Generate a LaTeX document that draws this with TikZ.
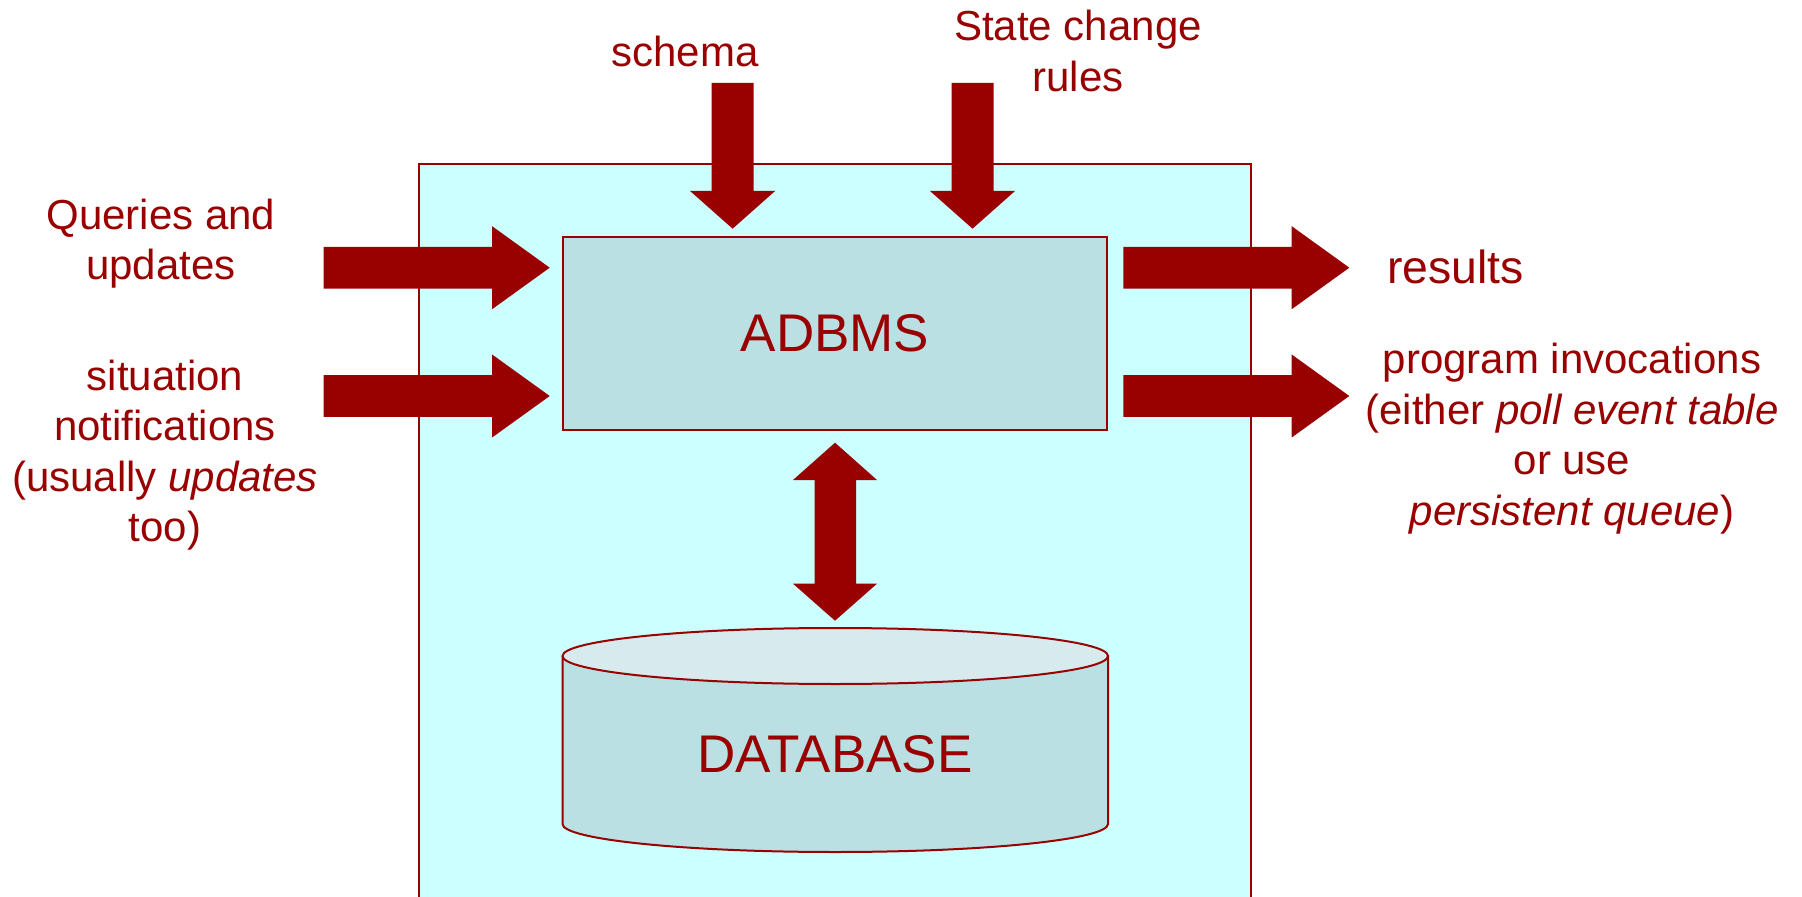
\documentclass[tikz,border=0pt]{standalone}
\usepackage{fontspec}
\setmainfont{Liberation Sans}
\definecolor{arrowred}{HTML}{990000}
\definecolor{framefill}{HTML}{CCFFFF}
\definecolor{boxfill}{HTML}{BAE0E3}
\definecolor{lidfill}{HTML}{D7EBEE}

% block arrow pointing right: from x=#1 to tip x=#2, centred on y=#3
\newcommand\BlockArrowRight[3]{%
  \fill[arrowred] ({#1},{#3-20.9}) -- ({#2-57.6},{#3-20.9}) -- ({#2-57.6},{#3-41.5})
    -- ({#2},{#3}) -- ({#2-57.6},{#3+41.5}) -- ({#2-57.6},{#3+20.9})
    -- ({#1},{#3+20.9}) -- cycle;}
% block arrow pointing down: centred on x=#1, from y=#2 to tip y=#3
\newcommand\BlockArrowDown[3]{%
  \fill[arrowred] ({#1-21},{#2}) -- ({#1+21},{#2}) -- ({#1+21},{#3-37.7})
    -- ({#1+42.5},{#3-37.7}) -- ({#1},{#3}) -- ({#1-42.5},{#3-37.7})
    -- ({#1-21},{#3-37.7}) -- cycle;}

\begin{document}
\begin{tikzpicture}[x=0.5pt,y=-0.5pt,
  label text/.style={text=arrowred,inner sep=0pt,font=\fontsize{21}{25.25}\selectfont},
  big text/.style={text=arrowred,font=\fontsize{26.5}{30}\selectfont}]
\useasboundingbox (0,0) rectangle (1802,897);
\clip (0,0) rectangle (1802,897);

% surrounding system frame (runs off the bottom edge)
\draw[arrowred,line width=1pt,fill=framefill] (419,164) rectangle (1251,920);

% ADBMS engine
\node[draw=arrowred,line width=1pt,fill=boxfill,big text,
      minimum width=272pt,minimum height=96.25pt] (adbms) at (835,333.75) {ADBMS};

% database cylinder
\fill[boxfill] (562.5,656) -- (562.5,824)
  arc[start angle=180,end angle=0,x radius=272.75,y radius=28] -- (1108,656) -- cycle;
\draw[arrowred,line width=1pt] (562.5,656) -- (562.5,824)
  arc[start angle=180,end angle=0,x radius=272.75,y radius=28] -- (1108,656);
\draw[arrowred,line width=1pt,fill=lidfill] (835.25,656) ellipse[x radius=272.75,y radius=28];
\node[big text] (db) at (835,754) {DATABASE};

% inputs from above (multi-line labels are placed by their last baseline)
\BlockArrowDown{732.6}{83}{228.7}
\BlockArrowDown{972.5}{83}{228.7}
\node[label text,anchor=base] (schema) at (685,66.7) {schema};
\node[label text,anchor=base,align=center] (rules) at (1078,91.5) {State change\\rules};

% inputs from the left
\BlockArrowRight{323.5}{549.7}{267.7}
\BlockArrowRight{323.5}{549.7}{396}
\node[label text,anchor=base,align=center] (queries) at (161,280) {Queries and\\updates};
\node[label text,anchor=base,align=center] (situations) at (165,541.7)
  {situation\\notifications\\(usually \textit{updates}\\too)};

% outputs to the right
\BlockArrowRight{1123.3}{1349.3}{267.7}
\BlockArrowRight{1123.3}{1349.3}{396}
\node[text=arrowred,inner sep=0pt,font=\fontsize{23.2}{28}\selectfont,anchor=base west]
  (results) at (1386.7,284) {results};
\node[label text,anchor=base,align=center] (invocations) at (1572,525)
  {program invocations\\(either \textit{poll event table}\\or use\\\textit{persistent queue})};

% two-way link between engine and database
\fill[arrowred] (835,442.7) -- (877,480) -- (856,480) -- (856,583.7) -- (877,583.7)
  -- (835,620.7) -- (793,583.7) -- (814.5,583.7) -- (814.5,480) -- (793,480) -- cycle;
\end{tikzpicture}
\end{document}
